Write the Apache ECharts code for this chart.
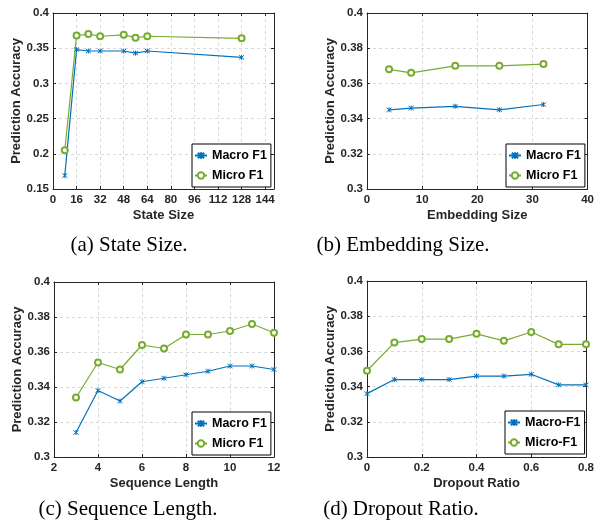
<!DOCTYPE html>
<html>
<head>
<meta charset="utf-8">
<script src="https://cdn.jsdelivr.net/npm/echarts@6/dist/echarts.min.js"></script>
<style>html,body{margin:0;padding:0;background:#fff}#c{width:597px;height:525px}</style>
</head>
<body>
<div id="c"></div>
<script>
// ---- data ----
const stateSizes = [8, 16, 24, 32, 48, 56, 64, 128];
const stateMacro = [0.169, 0.348, 0.346, 0.346, 0.346, 0.343, 0.346, 0.337];
const stateMicro = [0.205, 0.368, 0.370, 0.367, 0.369, 0.365, 0.367, 0.364];

const embSizes = [4, 8, 16, 24, 32];
const embMacro = [0.345, 0.346, 0.347, 0.345, 0.348];
const embMicro = [0.368, 0.366, 0.370, 0.370, 0.371];

const seqLens = [3, 4, 5, 6, 7, 8, 9, 10, 11, 12];
const seqMacro = [0.314, 0.338, 0.332, 0.343, 0.345, 0.347, 0.349, 0.352, 0.352, 0.350];
const seqMicro = [0.334, 0.354, 0.350, 0.364, 0.362, 0.370, 0.370, 0.372, 0.376, 0.371];

const dropRatios = [0, 0.1, 0.2, 0.3, 0.4, 0.5, 0.6, 0.7, 0.8];
const dropMacro = [0.336, 0.344, 0.344, 0.344, 0.346, 0.346, 0.347, 0.341, 0.341];
const dropMicro = [0.349, 0.365, 0.367, 0.367, 0.370, 0.366, 0.371, 0.364, 0.364];

const xTitles = ['State Size', 'Embedding Size', 'Sequence Length', 'Dropout Ratio'];
const yTitle = 'Prediction Accuracy';
const captions = ['(a) State Size.', '(b) Embedding Size.', '(c) Sequence Length.', '(d) Dropout Ratio.'];
const legendNames = [['Macro F1', 'Micro F1'], ['Macro F1', 'Micro F1'], ['Macro F1', 'Micro F1'], ['Macro-F1', 'Micro-F1']];

// ---- styling ----
const BLUE = '#0072BD', GREEN = '#77AC30', INK = '#262626';
const FONT = 'Liberation Sans, Arial, Helvetica, sans-serif';
const STAR = 'path://M0,0L10,10M10,0L0,10M5,-1L5,11';

const grids = [
  {left: 53, top: 13, width: 221, height: 176},
  {left: 367, top: 13, width: 222, height: 176},
  {left: 54, top: 282, width: 220, height: 175},
  {left: 367, top: 281, width: 222, height: 176}
];
const xRanges = [[0, 150, 16], [0, 40, 10], [2, 12, 2], [0, 0.8, 0.2]];
const yRanges = [[0.15, 0.4, 0.05], [0.3, 0.4, 0.02], [0.3, 0.4, 0.02], [0.3, 0.4, 0.02]];

function axisCommon() {
  return {
    axisLine: {show: true, onZero: false, lineStyle: {color: INK, width: 1}},
    axisTick: {show: true, inside: true, length: 3, lineStyle: {color: INK}},
    splitLine: {show: true, lineStyle: {color: '#d9d9d9', type: [3, 3], width: 1}},
    axisLabel: {color: INK, fontFamily: FONT, fontWeight: 'bold', fontSize: 11.5},
    nameTextStyle: {color: INK, fontFamily: FONT, fontWeight: 'bold', fontSize: 13}
  };
}

const xAxis = grids.map((g, i) => Object.assign(axisCommon(), {
  type: 'value', gridIndex: i, min: xRanges[i][0], max: xRanges[i][1], interval: xRanges[i][2],
  name: xTitles[i], nameLocation: 'middle', nameGap: 20,
}));
xAxis.forEach(a => { a.axisLabel = Object.assign({}, a.axisLabel, {margin: 5, showMaxLabel: a.max === 150 ? false : true}); });

const yAxis = grids.map((g, i) => Object.assign(axisCommon(), {
  type: 'value', gridIndex: i, min: yRanges[i][0], max: yRanges[i][1], interval: yRanges[i][2],
  name: yTitle, nameLocation: 'middle', nameGap: 27,
}));
yAxis.forEach(a => { a.axisLabel = Object.assign({}, a.axisLabel, {margin: 4}); });

// frame axes (top / right)
grids.forEach((g, i) => {
  xAxis.push({
    type: 'value', gridIndex: i, position: 'top', min: xRanges[i][0], max: xRanges[i][1], interval: xRanges[i][2],
    axisLine: {show: true, onZero: false, lineStyle: {color: INK, width: 1}},
    axisTick: {show: true, inside: true, length: 3, lineStyle: {color: INK}},
    axisLabel: {show: false}, splitLine: {show: false}
  });
  yAxis.push({
    type: 'value', gridIndex: i, position: 'right', min: yRanges[i][0], max: yRanges[i][1], interval: yRanges[i][2],
    axisLine: {show: true, onZero: false, lineStyle: {color: INK, width: 1}},
    axisTick: {show: true, inside: true, length: 3, lineStyle: {color: INK}},
    axisLabel: {show: false}, splitLine: {show: false}
  });
});

const xs = [stateSizes, embSizes, seqLens, dropRatios];
const macros = [stateMacro, embMacro, seqMacro, dropMacro];
const micros = [stateMicro, embMicro, seqMicro, dropMicro];

const series = [];
for (let i = 0; i < 4; i++) {
  series.push({
    type: 'line', name: legendNames[i][0], xAxisIndex: i, yAxisIndex: i,
    data: xs[i].map((x, k) => [x, macros[i][k]]),
    symbol: STAR, symbolSize: 5, showAllSymbol: true,
    lineStyle: {color: BLUE, width: 1.2},
    itemStyle: {color: BLUE, borderColor: BLUE, borderWidth: 1},
    emphasis: {disabled: true}, animation: false
  });
  series.push({
    type: 'line', name: legendNames[i][1], xAxisIndex: i, yAxisIndex: i,
    data: xs[i].map((x, k) => [x, micros[i][k]]),
    symbol: 'emptyCircle', symbolSize: 6, showAllSymbol: true,
    lineStyle: {color: GREEN, width: 1.2},
    itemStyle: {color: GREEN, borderColor: GREEN, borderWidth: 1},
    emphasis: {disabled: true}, animation: false
  });
}

const legendPos = [
  {left: 192, top: 144},
  {left: 506, top: 144},
  {left: 192, top: 412},
  {left: 505, top: 411}
];
const legend = legendPos.map((p, i) => ({
  left: p.left, top: p.top, orient: 'vertical',
  data: legendNames[i],
  backgroundColor: '#fff', borderColor: '#000', borderWidth: 1,
  padding: [5, 4, 5, 2], itemGap: 7, itemWidth: 12, itemHeight: 8,
  selectedMode: false,
  textStyle: {color: '#000', fontFamily: FONT, fontWeight: 'bold', fontSize: 12.5, lineHeight: 13}
}));

const capPos = [[129, 245], [403, 245], [128, 509], [401, 509]];
const graphic = captions.map((t, i) => ({
  type: 'text', x: capPos[i][0], y: capPos[i][1],
  style: {text: t, fill: '#000', font: '21px "Liberation Serif", "Times New Roman", serif', textAlign: 'center', textVerticalAlign: 'middle'}
}));

const option = {
  backgroundColor: '#fff',
  animation: false,
  grid: grids.map(g => Object.assign({show: false}, g)),
  xAxis, yAxis, series, legend, graphic
};

const chart = echarts.init(document.getElementById('c'), null, {renderer: 'canvas'});
chart.setOption(option);
</script>
</body>
</html>
